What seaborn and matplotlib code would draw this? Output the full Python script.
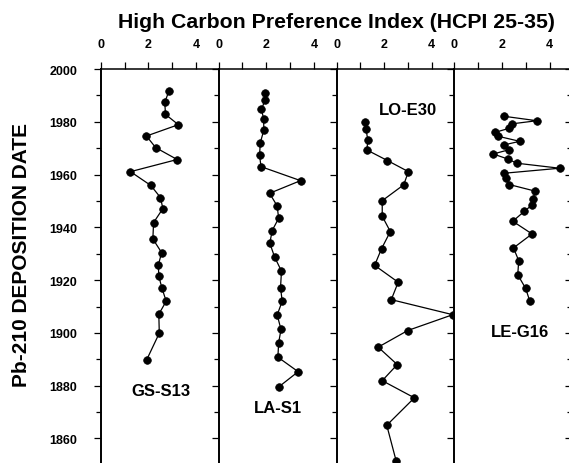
import numpy as np
import pandas as pd
import matplotlib
matplotlib.use("Agg")
import matplotlib.pyplot as plt
import seaborn as sns
from matplotlib.ticker import MultipleLocator, FixedLocator

# ---------------- data ----------------
gs_year = [1991.5, 1987.4, 1982.8, 1978.9, 1974.6, 1970.2, 1965.7, 1961.1, 1955.9, 1951.3,
           1947.1, 1941.8, 1935.6, 1930.4, 1925.8, 1921.5, 1917.0, 1912.0, 1907.1, 1899.9, 1889.8]
gs_hcpi = [2.86, 2.69, 2.72, 3.26, 1.92, 2.31, 3.21, 1.25, 2.10, 2.51,
           2.61, 2.22, 2.19, 2.56, 2.42, 2.44, 2.57, 2.75, 2.44, 2.46, 1.93]

la_year = [1990.9, 1988.4, 1984.7, 1981.1, 1976.9, 1972.0, 1967.3, 1963.0, 1957.7, 1952.9,
           1948.1, 1943.4, 1938.8, 1934.0, 1928.8, 1923.4, 1917.2, 1912.0, 1906.8, 1901.3,
           1896.2, 1890.8, 1885.3, 1879.5]
la_hcpi = [1.93, 1.96, 1.80, 1.89, 1.90, 1.75, 1.72, 1.78, 3.44, 2.14,
           2.46, 2.52, 2.25, 2.15, 2.35, 2.64, 2.60, 2.67, 2.46, 2.62,
           2.52, 2.49, 3.34, 2.52]

lo_year = [1980.0, 1977.3, 1973.2, 1969.3, 1965.3, 1961.1, 1956.1, 1950.1, 1944.2, 1938.4,
           1931.9, 1925.6, 1919.2, 1912.6, 1906.9, 1900.9, 1894.6, 1888.0, 1881.9, 1875.4,
           1865.0, 1851.3]
lo_hcpi = [1.21, 1.24, 1.31, 1.28, 2.14, 3.02, 2.82, 1.92, 1.92, 2.26,
           1.89, 1.60, 2.59, 2.30, 4.88, 2.99, 1.75, 2.55, 1.92, 3.27,
           2.11, 2.51]

le_year = [1982.1, 1980.4, 1979.2, 1977.5, 1976.0, 1974.5, 1972.6, 1971.2, 1969.4, 1967.8,
           1965.9, 1964.3, 1962.4, 1960.5, 1958.6, 1956.2, 1953.7, 1950.8, 1948.5, 1946.1,
           1942.3, 1937.5, 1932.2, 1927.4, 1922.0, 1916.9, 1912.2]
le_hcpi = [2.07, 3.46, 2.40, 2.29, 1.71, 1.84, 2.74, 2.07, 2.29, 1.63,
           2.24, 2.62, 4.42, 2.09, 2.15, 2.31, 3.40, 3.30, 3.26, 2.94,
           2.45, 3.26, 2.48, 2.70, 2.66, 2.99, 3.16]

cores = ["GS-S13", "LA-S1", "LO-E30", "LE-G16"]
years = [gs_year, la_year, lo_year, le_year]
values = [gs_hcpi, la_hcpi, lo_hcpi, le_hcpi]
x_ticklabels = ["0", "2", "4"]
title = "High Carbon Preference Index (HCPI 25-35)"
ylabel = "Pb-210 DEPOSITION DATE"

# label anchor positions (data coords within each panel)
label_pos = [(2.51, 1878.0), (2.49, 1871.9), (2.99, 1984.8), (2.75, 1900.7)]

# ---------------- style ----------------
sns.set_style("ticks")
plt.rcParams["font.family"] = ["Liberation Sans", "DejaVu Sans"]
plt.rcParams["font.weight"] = "bold"
plt.rcParams["text.color"] = "black"
plt.rcParams["axes.labelcolor"] = "black"
plt.rcParams["xtick.color"] = "black"
plt.rcParams["ytick.color"] = "black"

W, H = 569, 464
fig = plt.figure(figsize=(W / 100, H / 100), dpi=100)

lefts = [100.7, 218.6, 336.5, 454.4]
pw = 117.9
top_px = 70
ylim = (1850.7, 2000)
xlim = (0, 4.95)

for i, (core, yr, val) in enumerate(zip(cores, years, values)):
    ax = fig.add_axes([lefts[i] / W, 0, pw / W, (H - top_px) / H])
    df = pd.DataFrame({"hcpi": val, "year": yr})
    sns.lineplot(data=df, x="hcpi", y="year", sort=False, estimator=None, orient="y",
                 errorbar=None, ax=ax, color="black",
                 linewidth=0.9, marker="o", markersize=5.5, markeredgecolor="black",
                 markeredgewidth=0.5)
    ax.set_xlim(*xlim)
    ax.set_ylim(*ylim)
    ax.xaxis.tick_top()
    ax.xaxis.set_major_locator(FixedLocator([0, 2, 4]))
    ax.xaxis.set_minor_locator(FixedLocator([1, 3]))
    ax.set_xticklabels(x_ticklabels)
    ax.yaxis.set_major_locator(MultipleLocator(20))
    ax.yaxis.set_minor_locator(MultipleLocator(10))
    ax.tick_params(axis="x", which="both", direction="out", length=5, width=0.9,
                   top=True, bottom=False, labelsize=9, pad=8.5, colors="black")
    ax.tick_params(axis="y", which="major", direction="out", length=5, width=0.9,
                   labelsize=9, pad=12, colors="black")
    ax.tick_params(axis="y", which="minor", direction="out", length=3.5, width=0.9)
    for lab in ax.get_xticklabels() + ax.get_yticklabels():
        lab.set_fontweight("bold")
    if i > 0:
        ax.set_yticklabels([])
    ax.spines["right"].set_visible(False)
    ax.spines["bottom"].set_visible(False)
    ax.spines["left"].set_linewidth(1.4)
    ax.spines["top"].set_linewidth(1.1)
    ax.spines["left"].set_color("black")
    ax.spines["top"].set_color("black")
    ax.set_xlabel("")
    ax.set_ylabel("")
    ax.patch.set_alpha(0)
    lx, ly = label_pos[i]
    ax.text(lx, ly, core, ha="center", va="center", fontsize=12, fontweight="bold")

# ticks of the next (cropped) panel at the right edge
axr = fig.add_axes([572 / W, 0, 0.1, (H - top_px) / H])
axr.set_ylim(*ylim)
axr.set_xlim(*xlim)
axr.yaxis.set_major_locator(MultipleLocator(20))
axr.yaxis.set_minor_locator(MultipleLocator(10))
axr.tick_params(axis="y", which="major", direction="out", length=5, width=0.9, labelleft=False)
axr.tick_params(axis="y", which="minor", direction="out", length=3.5, width=0.9)
axr.set_xticks([])
for s in ["top", "right", "bottom"]:
    axr.spines[s].set_visible(False)
axr.patch.set_alpha(0)

fig.text(336 / W, 1 - 23 / H, title, ha="center", va="center", fontsize=15.3, fontweight="bold")
fig.text(22 / W, 1 - 255 / H, ylabel, ha="center", va="center", rotation=90,
         fontsize=15, fontweight="bold")

fig.savefig("out.png", dpi=100)
